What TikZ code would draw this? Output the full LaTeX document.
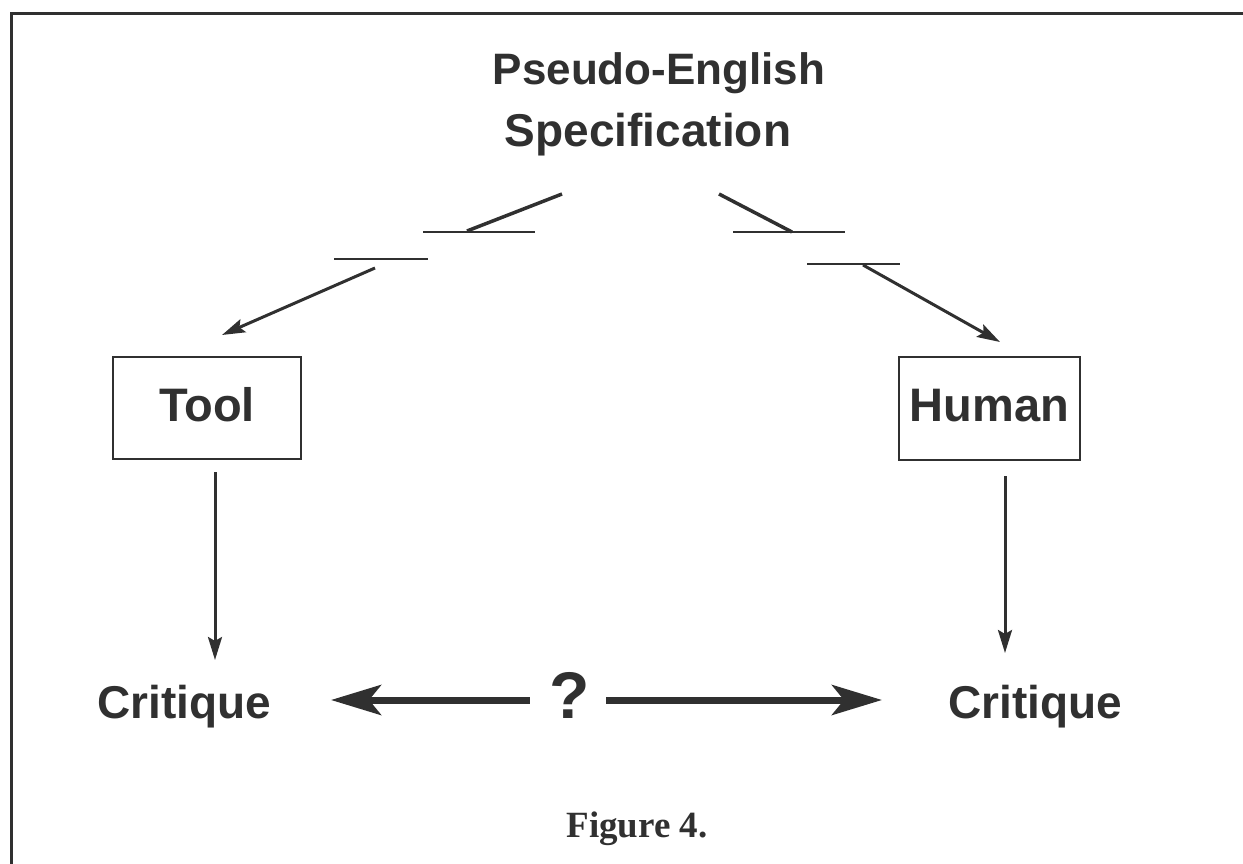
\documentclass[tikz,border=0pt]{standalone}
\usepackage{fontspec}
\setmainfont{Liberation Serif}
\setsansfont{Liberation Sans}
\usetikzlibrary{arrows.meta}
\definecolor{ink}{HTML}{303030}
\tikzset{
  lbl/.style={font=\sffamily\bfseries\fontsize{46}{50}\selectfont, text=ink, inner sep=0pt},
  boxnode/.style={draw=ink, line width=2.5pt, font=\sffamily\bfseries\fontsize{47}{50}\selectfont, text=ink, text height=33pt, text depth=7pt, inner sep=0pt},
  thin/.style={draw=ink, line width=3.5pt},
  cut/.style={draw=ink, line width=2.5pt},
  thinarr/.style={draw=ink, line width=3pt, -{Stealth[length=23pt,width=14pt,inset=4pt]}},
  bigarr/.style={draw=ink, line width=7pt, -{Stealth[length=50pt,width=30pt,inset=12pt]}},
  frame/.style={draw=ink, line width=3pt}
}
\begin{document}
\begin{tikzpicture}[x=1pt,y=-1pt]
\useasboundingbox (0,0) rectangle (1243,864);
% frame (left and top edges)
\coordinate (fbl) at (11,864);
\coordinate (ftl) at (11,14);
\coordinate (ftr) at (1243,14);
\draw[frame] (fbl) -- (ftl) -- (ftr);
% title
\node[lbl, font=\sffamily\bfseries\fontsize{44}{50}\selectfont, anchor=base] (spec1) at (659,85) {Pseudo-English};
\node[lbl, anchor=base] (spec2) at (648,147) {Specification};
% boxes
\node[boxnode, minimum width=188pt, minimum height=102pt] (tool) at (207,408) {Tool};
\node[boxnode, minimum width=181pt, minimum height=103pt] (human) at (989.5,408.5) {Human};
% broken connector to Tool
\coordinate (la1) at (562,194);
\coordinate (la2) at (467,231);
\coordinate (lh1a) at (423,232);
\coordinate (lh1b) at (535,232);
\coordinate (lh2a) at (334,259);
\coordinate (lh2b) at (428,259);
\coordinate (lb1) at (375,268);
\coordinate (lb2) at (222,335);
\draw[thin] (la1) -- (la2);
\draw[cut] (lh1a) -- (lh1b);
\draw[cut] (lh2a) -- (lh2b);
\draw[thinarr] (lb1) -- (lb2);
% broken connector to Human
\coordinate (ra1) at (719,194);
\coordinate (ra2) at (792,232);
\coordinate (rh1a) at (733,232);
\coordinate (rh1b) at (845,232);
\coordinate (rh2a) at (807,264);
\coordinate (rh2b) at (900,264);
\coordinate (rb1) at (863,265);
\coordinate (rb2) at (1000,342);
\draw[thin] (ra1) -- (ra2);
\draw[cut] (rh1a) -- (rh1b);
\draw[cut] (rh2a) -- (rh2b);
\draw[thinarr] (rb1) -- (rb2);
% critiques
\node[lbl, anchor=base] (critL) at (184,718) {Critique};
\node[lbl, anchor=base] (critR) at (1035,718) {Critique};
\coordinate (tipTool) at (215,660);
\coordinate (tipHuman) at (1005,653);
\draw[thinarr, shorten <=12pt] (tool.south -| tipTool) -- (tipTool);
\draw[thinarr, shorten <=15pt] (human.south -| tipHuman) -- (tipHuman);
% question and big arrows
\node[lbl, font=\sffamily\bfseries\fontsize{66}{70}\selectfont, anchor=base] (q) at (570,718) {?};
\coordinate (tipL) at (331,700);
\coordinate (tipR) at (882,700);
\draw[bigarr, shorten <=20pt] (q.west |- tipL) -- (tipL);
\draw[bigarr, shorten <=16pt] (q.east |- tipR) -- (tipR);
% caption
\node[font=\rmfamily\bfseries\fontsize{37}{40}\selectfont, text=ink, inner sep=0pt, anchor=base] (cap) at (637,837) {Figure 4.};
\end{tikzpicture}
\end{document}
